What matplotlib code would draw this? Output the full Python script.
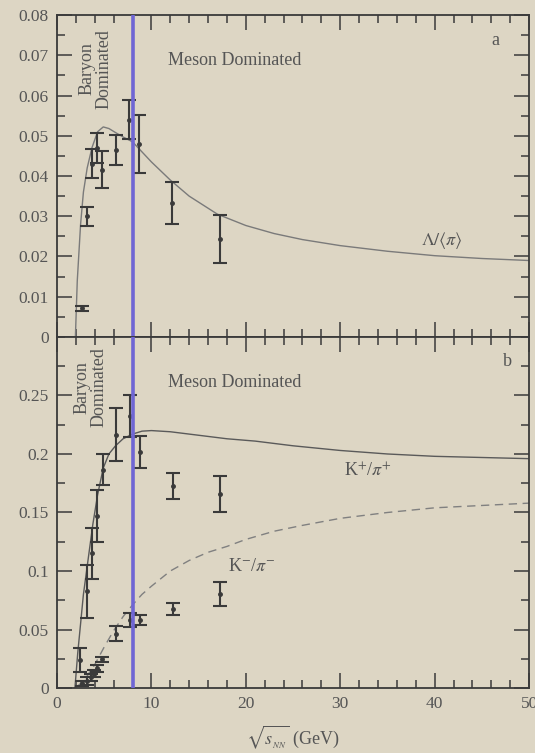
import matplotlib
matplotlib.use("Agg")
import matplotlib.pyplot as plt
from matplotlib.ticker import MultipleLocator

plt.rcParams['font.family'] = ['Liberation Serif', 'DejaVu Serif']
plt.rcParams['mathtext.fontset'] = 'stix'

BG = '#ddd6c4'
INK = '#3a3a3a'
TXT = '#555555'

# Lambda / <pi> data points (sqrt(s_NN), ratio, error)
lam_x = [2.6, 3.2, 3.7, 4.2, 4.75, 6.2, 7.6, 8.7, 12.2, 17.3]
lam_y = [0.0071, 0.030, 0.043, 0.047, 0.0415, 0.0465, 0.054, 0.048, 0.0333, 0.0244]
lam_err = [0.0006, 0.0023, 0.0036, 0.0037, 0.0046, 0.0038, 0.0048, 0.0072, 0.0053, 0.006]

# model curve for Lambda / <pi>
lam_cx = [1.95, 2.05, 2.15, 2.3, 2.5, 2.8, 3.2, 3.7, 4.3, 4.9, 5.5, 6.2, 7.0, 8.0,
          9.0, 10.0, 12.0, 14.0, 17.0, 20.0, 23.0, 26.0, 30.0, 35.0, 40.0, 45.0, 50.0]
lam_cy = [0.0, 0.007, 0.014, 0.020, 0.028, 0.036, 0.042, 0.047, 0.051, 0.0522, 0.0518,
          0.0508, 0.0497, 0.0485, 0.046, 0.0435, 0.039, 0.035, 0.0305, 0.0277, 0.0257,
          0.0242, 0.0227, 0.0213, 0.0202, 0.0195, 0.019]

# K+/pi+ data points
kp_x = [3.2, 3.7, 4.2, 4.9, 6.2, 7.7, 8.8, 12.3, 17.3]
kp_y = [0.0825, 0.115, 0.147, 0.1866, 0.2166, 0.2323, 0.2015, 0.1724, 0.166]
kp_err = [0.023, 0.022, 0.0225, 0.013, 0.023, 0.018, 0.0135, 0.011, 0.0155]

# K-/pi- data points
km_x = [2.45, 2.7, 3.2, 3.6, 3.9, 4.2, 4.75, 6.2, 7.7, 8.8, 12.3, 17.3]
km_y = [0.024, 0.004, 0.006, 0.009, 0.012, 0.017, 0.0247, 0.0465, 0.058, 0.058, 0.0675, 0.0805]
km_err = [0.0105, 0.002, 0.003, 0.003, 0.003, 0.003, 0.0022, 0.0065, 0.006, 0.0045, 0.0055, 0.01]

# model curves for the kaon ratios
kp_cx = [1.9, 2.2, 2.5, 2.8, 3.3, 3.8, 4.3, 4.9, 5.5, 6.2, 7.0, 8.0, 9.0, 10.0, 12.0,
         15.0, 18.0, 21.0, 25.0, 30.0, 35.0, 40.0, 45.0, 50.0]
kp_cy = [0.0, 0.03, 0.055, 0.08, 0.11, 0.14, 0.165, 0.188, 0.200, 0.207, 0.213, 0.217,
         0.2195, 0.220, 0.219, 0.216, 0.213, 0.211, 0.207, 0.203, 0.200, 0.198, 0.197, 0.196]
km_cx = [2.0, 3.0, 4.0, 5.0, 6.0, 7.0, 8.0, 9.0, 10.0, 12.0, 14.0, 16.0, 18.0, 20.0,
         23.0, 26.0, 30.0, 35.0, 40.0, 45.0, 50.0]
km_cy = [0.0, 0.008, 0.020, 0.035, 0.049, 0.061, 0.071, 0.080, 0.087, 0.100, 0.109,
         0.116, 0.121, 0.127, 0.134, 0.139, 0.145, 0.150, 0.154, 0.156, 0.158]

x_boundary = 8.0

fig = plt.figure(figsize=(5.35, 7.53), dpi=100, facecolor=BG)
ax1 = fig.add_axes([0.1065, 0.5525, 0.8825, 0.4275], facecolor=BG)
ax2 = fig.add_axes([0.1065, 0.0863, 0.8825, 0.4662], facecolor=BG)

eb = dict(fmt='o', ms=2.5, color=INK, ecolor=INK, elinewidth=1.5, capsize=5, capthick=1.5)

ax1.plot(lam_cx, lam_cy, color='#7a7a7a', lw=1.0)
ax1.errorbar(lam_x, lam_y, yerr=lam_err, **eb)

ax2.plot(kp_cx, kp_cy, color='#5a5a5a', lw=1.0)
ax2.plot(km_cx, km_cy, color='#808080', lw=1.0, dashes=(6, 4))
ax2.errorbar(kp_x, kp_y, yerr=kp_err, **eb)
ax2.errorbar(km_x, km_y, yerr=km_err, **eb)

for ax in (ax1, ax2):
    ax.axvline(x_boundary, color='#6f66d4', lw=2.6, zorder=5)
    ax.set_xlim(0, 50)
    ax.xaxis.set_major_locator(MultipleLocator(10))
    ax.xaxis.set_minor_locator(MultipleLocator(2))
    ax.tick_params(which='both', direction='in', top=True, right=True,
                   colors=INK, labelcolor=TXT, labelsize=12.5, width=1.1, pad=6)
    ax.tick_params(which='major', length=10.5)
    ax.tick_params(which='minor', length=5.5)
    for s in ax.spines.values():
        s.set_color(INK)
        s.set_linewidth(1.3)

ax1.set_ylim(0, 0.08)
ax1.yaxis.set_minor_locator(MultipleLocator(0.005))
ax1.set_yticks([0, 0.01, 0.02, 0.03, 0.04, 0.05, 0.06, 0.07, 0.08],
               ['0', '0.01', '0.02', '0.03', '0.04', '0.05', '0.06', '0.07', '0.08'])
ax1.tick_params(labelbottom=False)

ax2.set_ylim(0, 0.30)
ax2.set_yticks([0, 0.05, 0.1, 0.15, 0.2, 0.25],
               ['0', '0.05', '0.1', '0.15', '0.2', '0.25'])
ax2.yaxis.set_minor_locator(MultipleLocator(0.025))
ax2.set_xticks([0, 10, 20, 30, 40, 50], ['0', '10', '20', '30', '40', '50'])
ax2.set_xlabel(r'$\sqrt{s_{_{NN}}}$ (GeV)', color=TXT, fontsize=13, labelpad=8)

# panel annotations
tk = dict(color=TXT, fontsize=13)
ax1.text(11.8, 0.0688, 'Meson Dominated', ha='left', va='center', **tk)
ax1.text(4.05, 0.0667, 'Baryon\nDominated', rotation=90, ha='center', va='center',
         multialignment='center', linespacing=1.0, **tk)
ax1.text(46.4, 0.0738, 'a', ha='center', va='center', **tk)
ax1.text(38.6, 0.024, r'$\Lambda/\langle\pi\rangle$', ha='left', va='center', **tk)

ax2.text(11.8, 0.261, 'Meson Dominated', ha='left', va='center', **tk)
ax2.text(3.6, 0.257, 'Baryon\nDominated', rotation=90, ha='center', va='center',
         multialignment='center', linespacing=1.0, **tk)
ax2.text(47.7, 0.279, 'b', ha='center', va='center', **tk)
ax2.text(30.4, 0.185, r'K$^{+}$/$\pi^{+}$', ha='left', va='center', **tk)
ax2.text(18.1, 0.1036, r'K$^{-}$/$\pi^{-}$', ha='left', va='center', **tk)

fig.savefig('out.png', dpi=100, facecolor=BG)
